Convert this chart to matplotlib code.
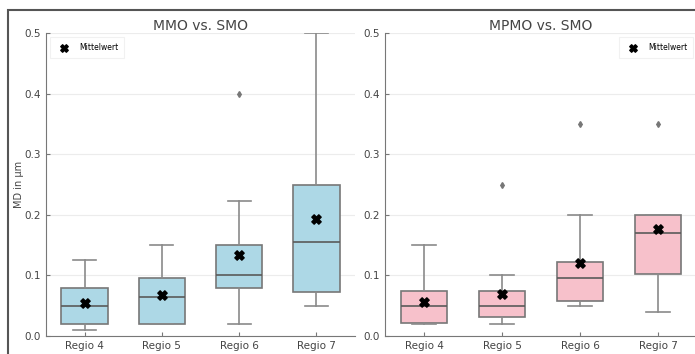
import matplotlib
matplotlib.use("Agg")
import matplotlib.pyplot as plt
from matplotlib.patches import Rectangle

regions = ["Regio 4", "Regio 5", "Regio 6", "Regio 7"]

# MMO vs. SMO
mmo_low = [0.01, 0.02, 0.02, 0.05]
mmo_q1 = [0.02, 0.02, 0.08, 0.072]
mmo_med = [0.05, 0.065, 0.10, 0.155]
mmo_q3 = [0.08, 0.095, 0.15, 0.25]
mmo_high = [0.125, 0.15, 0.223, 0.50]
mmo_mean = [0.055, 0.068, 0.133, 0.193]
mmo_fliers = [[], [], [0.40], []]

# MPMO vs. SMO
mpmo_low = [0.02, 0.02, 0.05, 0.04]
mpmo_q1 = [0.022, 0.032, 0.057, 0.102]
mpmo_med = [0.05, 0.05, 0.095, 0.17]
mpmo_q3 = [0.075, 0.075, 0.122, 0.20]
mpmo_high = [0.15, 0.10, 0.20, 0.20]
mpmo_mean = [0.056, 0.069, 0.12, 0.176]
mpmo_fliers = [[], [0.25], [0.35], [0.35]]


def make_stats(low, q1, med, q3, high, mean, fliers):
    stats = []
    for i in range(len(regions)):
        stats.append(dict(whislo=low[i], q1=q1[i], med=med[i], q3=q3[i],
                          whishi=high[i], mean=mean[i], fliers=fliers[i],
                          label=regions[i]))
    return stats


fig = plt.figure(figsize=(6.95, 3.54), dpi=100)
W, H = 695, 354

# outer frame of the screenshot
fig.patches.append(Rectangle((8 / W, -0.1), 1.2, (H - 10) / H + 0.1,
                             transform=fig.transFigure, fill=False,
                             edgecolor="#555555", linewidth=1.5))

ax1 = fig.add_axes([46 / W, 18 / H, 309 / W, 303 / H])
ax2 = fig.add_axes([385 / W, 18 / H, 312 / W, 303 / H])

panels = [
    (ax1, make_stats(mmo_low, mmo_q1, mmo_med, mmo_q3, mmo_high, mmo_mean, mmo_fliers),
     "#add8e6", "MMO vs. SMO", mmo_mean, "upper left"),
    (ax2, make_stats(mpmo_low, mpmo_q1, mpmo_med, mpmo_q3, mpmo_high, mpmo_mean, mpmo_fliers),
     "#f7c1cb", "MPMO vs. SMO", mpmo_mean, "upper right"),
]

edge = "#777777"
for ax, stats, color, title, means, loc in panels:
    pos = list(range(len(regions)))
    ax.bxp(stats, positions=pos, widths=0.6, patch_artist=True,
           showmeans=False,
           boxprops=dict(facecolor=color, edgecolor=edge, linewidth=1.2),
           medianprops=dict(color="#5a5a5a", linewidth=1.2),
           whiskerprops=dict(color="#8a8a8a", linewidth=1.2),
           capprops=dict(color="#8a8a8a", linewidth=1.2),
           flierprops=dict(marker="d", markersize=3, markerfacecolor="#777777",
                           markeredgecolor="#777777"))
    ax.scatter(pos, means, marker="X", s=45, color="black", zorder=5,
               label="Mittelwert")
    ax.set_xlim(-0.5, 3.5)
    ax.set_ylim(0, 0.5)
    ax.set_yticks([0.0, 0.1, 0.2, 0.3, 0.4, 0.5])
    ax.set_xticks(pos)
    ax.set_xticklabels(regions)
    ax.grid(axis="y", color="#ececec", linewidth=0.8)
    ax.set_axisbelow(True)
    for s in ["top", "right"]:
        ax.spines[s].set_visible(False)
    for s in ["left", "bottom"]:
        ax.spines[s].set_color("#777777")
    ax.tick_params(axis="both", labelsize=7.5, colors="#777777", labelcolor="#444444",
                   length=3, direction="in")
    ax.set_title(title, fontsize=10, color="#444444", pad=2)
    leg = ax.legend(loc=loc, fontsize=5.5, frameon=True, handletextpad=1.0,
                    borderpad=0.8, markerscale=0.8, fancybox=False)
    leg.get_frame().set_edgecolor("#eeeeee")
    leg.get_frame().set_linewidth(0.8)

ax1.set_ylabel("MD in µm", fontsize=7, color="#444444")
ax1.yaxis.set_label_coords(-0.07, 0.5)

fig.savefig("out.png", dpi=100)
